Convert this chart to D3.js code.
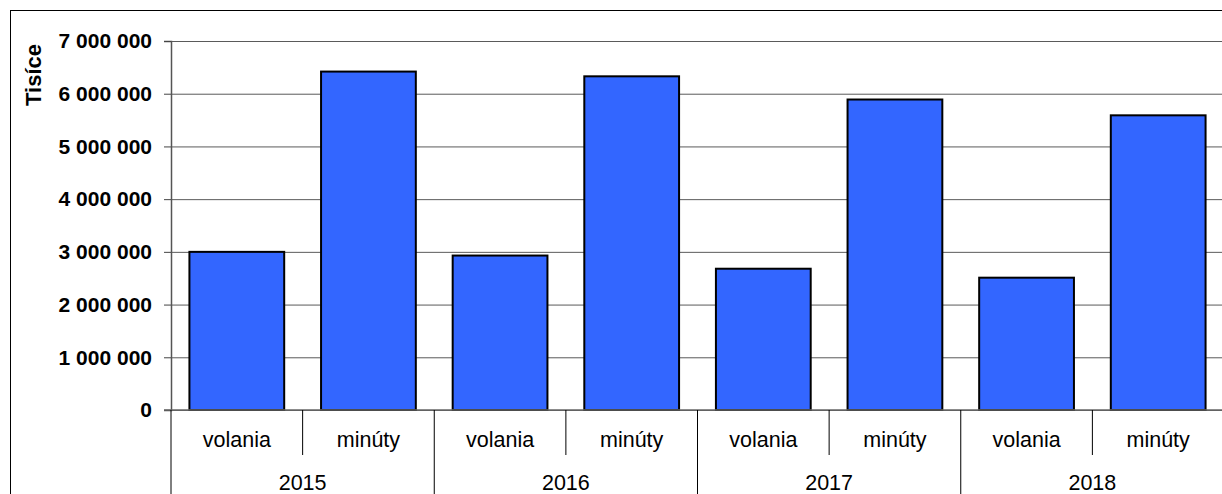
<!DOCTYPE html>
<html>
<head>
<meta charset="utf-8">
<script src="https://cdn.jsdelivr.net/npm/d3@7"></script>
<style>
  body { margin: 0; background: #fff; }
  text { font-family: "Liberation Sans", Arial, sans-serif; }
</style>
</head>
<body>
<div class="canvas"></div>
<script>
// data
const years = ['2015', '2016', '2017', '2018'];
const categories = ['volania', 'minúty'];
const volania = [3000000, 2930000, 2680000, 2510000];
const minuty = [6420000, 6330000, 5890000, 5590000];
const yTicks = [0, 1000000, 2000000, 3000000, 4000000, 5000000, 6000000, 7000000];

const rows = [];
years.forEach((yr, i) => {
    rows.push({year: yr, cat: categories[0], value: volania[i]});
    rows.push({year: yr, cat: categories[1], value: minuty[i]});
});

const W = 1222, H = 494;
const margin = {top: 41, left: 171, bottom: 84};
const plotRight = 1224;

const svg = d3.select('.canvas')
    .append('svg')
        .attr('width', W)
        .attr('height', H);

// outer frame
svg.append('rect')
    .attr('x', 10.5).attr('y', 10.5)
    .attr('width', 1240).attr('height', 520)
    .attr('fill', 'none').attr('stroke', '#000');

const y = d3.scaleLinear()
    .domain([0, 7000000])
    .range([H - margin.bottom, margin.top]);

const x0 = d3.scaleBand()
    .domain(years)
    .range([margin.left, plotRight]);

const x1 = d3.scaleBand()
    .domain(categories)
    .range([0, x0.bandwidth()]);

const barW = x1.bandwidth() * 0.72;

const locale = d3.formatLocale({decimal: ',', thousands: ' ', grouping: [3], currency: ['', '']});
const fmt = locale.format(',');

// gridlines
const grid = svg.append('g')
    .attr('transform', `translate(${margin.left},0)`)
    .call(d3.axisLeft(y).tickValues(yTicks).tickSize(-(plotRight - margin.left)).tickFormat(''));
grid.select('.domain').remove();
grid.selectAll('line').attr('stroke', '#5a5a5a').attr('stroke-width', 1);

// bars
svg.selectAll('rect.bar')
    .data(rows)
    .enter()
    .append('rect')
        .attr('class', 'bar')
        .attr('x', d => x0(d.year) + x1(d.cat) + (x1.bandwidth() - barW) / 2)
        .attr('y', d => y(d.value))
        .attr('width', barW)
        .attr('height', d => y(0) - y(d.value))
        .attr('fill', '#3366ff')
        .attr('stroke', '#000')
        .attr('stroke-width', 2);

// y axis
const yAxis = svg.append('g')
    .attr('transform', `translate(${margin.left},0)`)
    .call(d3.axisLeft(y).tickValues(yTicks).tickSize(7).tickPadding(12).tickFormat(fmt));
yAxis.select('.domain').attr('stroke', '#555').attr('stroke-width', 1.5);
yAxis.selectAll('line').attr('stroke', '#444');
yAxis.selectAll('text')
    .attr('font-size', 21)
    .attr('font-weight', 'bold')
    .attr('fill', '#000');

// zero line
svg.append('line')
    .attr('x1', margin.left - 7).attr('x2', plotRight)
    .attr('y1', y(0)).attr('y2', y(0))
    .attr('stroke', '#666').attr('stroke-width', 1.5);

// y title
svg.append('text')
    .attr('transform', 'translate(41,75) rotate(-90)')
    .attr('text-anchor', 'middle')
    .attr('font-size', 22)
    .attr('font-weight', 'bold')
    .text('Tisíce');

// category labels
const base = y(0);
rows.forEach(d => {
    svg.append('text')
        .attr('x', x0(d.year) + x1(d.cat) + x1.bandwidth() / 2)
        .attr('y', base + 37)
        .attr('text-anchor', 'middle')
        .attr('font-size', 21.5)
        .text(d.cat);
});

// inner dividers
years.forEach(yr => {
    svg.append('line')
        .attr('x1', x0(yr) + x1(categories[1])).attr('x2', x0(yr) + x1(categories[1]))
        .attr('y1', base).attr('y2', base + 45)
        .attr('stroke', '#000');
});

// year dividers
years.concat(['end']).forEach((yr, i) => {
    const xx = i < years.length ? x0(yr) : x0.range()[1];
    svg.append('line')
        .attr('x1', xx).attr('x2', xx)
        .attr('y1', base).attr('y2', H)
        .attr('stroke', '#000');
});

// year labels
svg.selectAll('text.year')
    .data(years)
    .enter()
    .append('text')
        .attr('class', 'year')
        .attr('x', d => x0(d) + x0.bandwidth() / 2)
        .attr('y', base + 80)
        .attr('text-anchor', 'middle')
        .attr('font-size', 21.5)
        .text(d => d);
</script>
</body>
</html>
